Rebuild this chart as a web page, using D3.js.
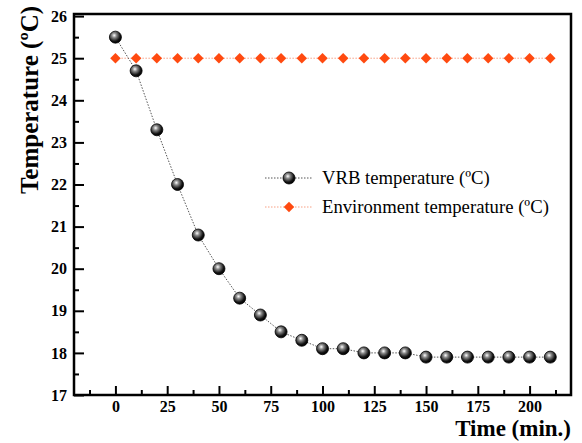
<!DOCTYPE html>
<html>
<head>
  <meta charset="utf-8">
  <style>
    html, body { margin: 0; background: #fff; overflow: hidden; }
    svg { display: block; }
  </style>
  <script src="https://d3js.org/d3.v7.min.js"></script>
</head>
<body>
  <svg id="chart" width="582" height="443"></svg>
  <script>
    var times = [0, 10, 20, 30, 40, 50, 60, 70, 80, 90, 100, 110, 120, 130, 140, 150, 160, 170, 180, 190, 200, 210];
    var vrbTemp = [25.5, 24.7, 23.3, 22.0, 20.8, 20.0, 19.3, 18.9, 18.5, 18.3, 18.1, 18.1, 18.0, 18.0, 18.0, 17.9, 17.9, 17.9, 17.9, 17.9, 17.9, 17.9];
    var envTemp = [25, 25, 25, 25, 25, 25, 25, 25, 25, 25, 25, 25, 25, 25, 25, 25, 25, 25, 25, 25, 25, 25];
    var xTicks = [0, 25, 50, 75, 100, 125, 150, 175, 200];
    var yTicks = [17, 18, 19, 20, 21, 22, 23, 24, 25, 26];
    var legendLabels = ["VRB temperature (\u00BAC)", "Environment temperature (\u00BAC)"];

    var FONT = "'Liberation Serif', 'Times New Roman', serif";
    var margin = {top: 14, right: 11, bottom: 48, left: 74};
    var W = 582, H = 443;
    var width = W - margin.left - margin.right;
    var height = H - margin.top - margin.bottom;

    var svg = d3.select("#chart");
    var defs = svg.append("defs");
    var grad = defs.append("radialGradient")
      .attr("id", "ball")
      .attr("cx", "40%").attr("cy", "35%").attr("r", "65%");
    grad.append("stop").attr("offset", "0%").attr("stop-color", "#ffffff");
    grad.append("stop").attr("offset", "30%").attr("stop-color", "#8a8a8a");
    grad.append("stop").attr("offset", "75%").attr("stop-color", "#141414");
    grad.append("stop").attr("offset", "100%").attr("stop-color", "#000000");

    var g = svg.append("g")
      .attr("transform", "translate(" + margin.left + "," + margin.top + ")");

    var x = d3.scaleLinear().domain([-20, 220]).range([0, width]);
    var y = d3.scaleLinear().domain([17, 26.05]).range([height, 0]);

    var xMinor = d3.range(-12.5, 220, 25);
    var yMinor = d3.range(17.5, 26, 1);

    function styleAxis(a){
      a.select(".domain").remove();
      a.attr("font-family", FONT).attr("font-size", 16).attr("font-weight", "bold");
      a.selectAll(".tick line").attr("stroke-width", 2);
      a.selectAll(".tick text").attr("fill", "#000");
    }

    g.append("g")
      .attr("transform", "translate(0," + height + ")")
      .call(d3.axisBottom(x).tickValues(xTicks).tickSizeInner(-9).tickSizeOuter(0).tickPadding(6))
      .call(styleAxis);
    g.append("g")
      .attr("transform", "translate(0," + height + ")")
      .call(d3.axisBottom(x).tickValues(xMinor).tickSizeInner(-5).tickSizeOuter(0).tickFormat(""))
      .call(styleAxis);

    g.append("g")
      .call(d3.axisLeft(y).tickValues(yTicks).tickSizeInner(-10).tickSizeOuter(0).tickPadding(7))
      .call(styleAxis);
    g.append("g")
      .call(d3.axisLeft(y).tickValues(yMinor).tickSizeInner(-5).tickSizeOuter(0).tickFormat(""))
      .call(styleAxis);

    // frame
    g.append("rect")
      .attr("x", 0).attr("y", 0)
      .attr("width", width).attr("height", height)
      .attr("fill", "none").attr("stroke", "#000").attr("stroke-width", 2.5);

    var line = d3.line()
      .x(function(d){ return x(d[0]); })
      .y(function(d){ return y(d[1]); });

    var envData = times.map(function(t, i){ return [t, envTemp[i]]; });
    var vrbData = times.map(function(t, i){ return [t, vrbTemp[i]]; });

    g.append("path")
      .datum(envData)
      .attr("d", line)
      .attr("fill", "none")
      .attr("stroke", "#f7a084")
      .attr("stroke-width", 1)
      .attr("stroke-dasharray", "1.5,1.5");

    g.append("path")
      .datum(vrbData)
      .attr("d", line)
      .attr("fill", "none")
      .attr("stroke", "#555")
      .attr("stroke-width", 1)
      .attr("stroke-dasharray", "1.5,1.5");

    var diamond = d3.symbol().type(d3.symbolDiamond2).size(70);

    g.selectAll(".env")
      .data(envData).enter()
      .append("path")
      .attr("class", "env")
      .attr("d", diamond)
      .attr("transform", function(d){ return "translate(" + x(d[0]) + "," + y(d[1]) + ")"; })
      .attr("fill", "#ff4a10");

    g.selectAll(".vrb")
      .data(vrbData).enter()
      .append("circle")
      .attr("class", "vrb")
      .attr("cx", function(d){ return x(d[0]); })
      .attr("cy", function(d){ return y(d[1]); })
      .attr("r", 6)
      .attr("fill", "url(#ball)")
      .attr("stroke", "#000")
      .attr("stroke-width", 0.8);

    // legend
    var leg = svg.append("g").attr("transform", "translate(265,178)");
    leg.append("line")
      .attr("x1", 0).attr("x2", 48).attr("y1", 0).attr("y2", 0)
      .attr("stroke", "#555").attr("stroke-dasharray", "1.5,1.5");
    leg.append("circle")
      .attr("cx", 24).attr("cy", 0).attr("r", 6)
      .attr("fill", "url(#ball)").attr("stroke", "#000").attr("stroke-width", 0.8);
    leg.append("line")
      .attr("x1", 0).attr("x2", 48).attr("y1", 29).attr("y2", 29)
      .attr("stroke", "#f7a084").attr("stroke-dasharray", "1.5,1.5");
    leg.append("path")
      .attr("d", diamond)
      .attr("transform", "translate(24,29)")
      .attr("fill", "#ff4a10");
    leg.selectAll(".lt")
      .data(legendLabels).enter()
      .append("text")
      .attr("x", 57)
      .attr("y", function(d, i){ return i * 29 + 6; })
      .attr("font-family", FONT)
      .attr("font-size", 18.7)
      .attr("fill", "#000")
      .text(function(d){ return d; });

    // axis titles
    svg.append("text")
      .attr("transform", "translate(38,100) rotate(-90)")
      .attr("text-anchor", "middle")
      .attr("font-family", FONT)
      .attr("font-weight", "bold")
      .attr("font-size", 25)
      .text("Temperature (\u00BAC)");

    svg.append("text")
      .attr("x", 571)
      .attr("y", 436)
      .attr("text-anchor", "end")
      .attr("font-family", FONT)
      .attr("font-weight", "bold")
      .attr("font-size", 23)
      .text("Time (min.)");
  </script>
</body>
</html>
